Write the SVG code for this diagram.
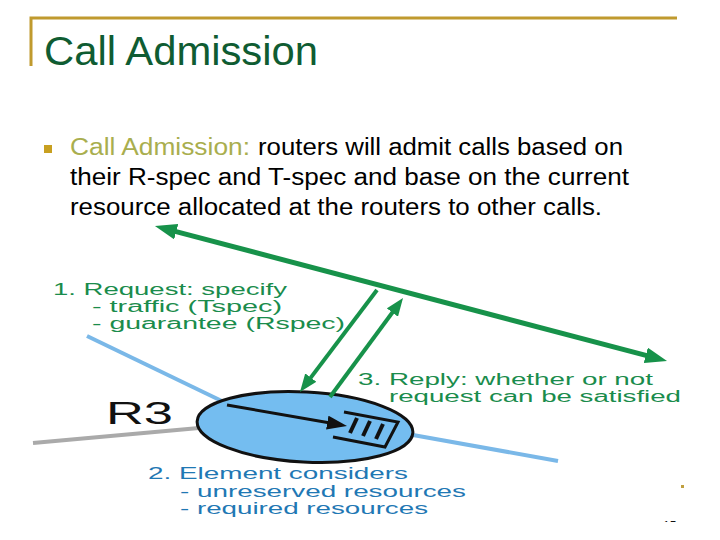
<svg xmlns="http://www.w3.org/2000/svg" width="720" height="540" viewBox="0 0 720 540">
<style>
.title{font-family:"Liberation Sans",Arial,sans-serif;font-size:40px;fill:#0f5c32}
.body{font-family:"Liberation Sans",Arial,sans-serif;font-size:23px;fill:#000}
.hl{fill:#a9ae4e}
.lbl{font-family:"Liberation Sans",Arial,sans-serif;font-size:16px}
.g{fill:#1a8c4c}
.b{fill:#1f78b4}
.gl{stroke:#17924a;fill:none}
</style>
<defs>
<marker id="ga" viewBox="0 0 22 16" refX="8" refY="8" markerWidth="22" markerHeight="16" markerUnits="userSpaceOnUse" orient="auto-start-reverse"><path d="M0,0 L22,8 L0,16 z" fill="#17924a"/></marker>
<marker id="gs" viewBox="0 0 18 14" refX="6" refY="7" markerWidth="18" markerHeight="14" markerUnits="userSpaceOnUse" orient="auto"><path d="M0,0 L18,7 L0,14 z" fill="#17924a"/></marker>
<marker id="ba" viewBox="0 0 20 14" refX="6" refY="7" markerWidth="20" markerHeight="14" markerUnits="userSpaceOnUse" orient="auto"><path d="M0,0 L20,7 L0,14 z" fill="#111"/></marker>
<clipPath id="pg"><rect x="640" y="500" width="60" height="22"/></clipPath>
</defs>
<rect width="720" height="540" fill="#fff"/>
<g id="header">
<path d="M31,66 V18 H677" fill="none" stroke="#c09a2e" stroke-width="3"/>
<text class="title" x="44" y="65" textLength="274" lengthAdjust="spacingAndGlyphs">Call Admission</text>
</g>
<g id="bullet">
<rect x="44" y="145" width="8" height="8" fill="#c8a020"/>
<text class="body hl" x="70" y="155" textLength="180" lengthAdjust="spacingAndGlyphs">Call Admission:</text>
<text class="body" x="258" y="155" textLength="365" lengthAdjust="spacingAndGlyphs">routers will admit calls based on</text>
<text class="body" x="70" y="185" textLength="559" lengthAdjust="spacingAndGlyphs">their R-spec and T-spec and base on the current</text>
<text class="body" x="70" y="215" textLength="532" lengthAdjust="spacingAndGlyphs">resource allocated at the routers to other calls.</text>
</g>
<g id="links">
<line x1="87" y1="336" x2="228" y2="404" stroke="#7ab8e8" stroke-width="4"/>
<line x1="413" y1="435" x2="558" y2="461" stroke="#7ab8e8" stroke-width="4"/>
<line x1="33" y1="443" x2="199" y2="428" stroke="#aaaaaa" stroke-width="4"/>
</g>
<g id="router">
<ellipse cx="305" cy="427" rx="108" ry="35" fill="#74bdf0" stroke="#111" stroke-width="3" transform="rotate(3 305 427)"/>
<g id="queue" stroke="#111" stroke-width="3" fill="none">
<path d="M344,412 L398,422 L385,447 L333,437"/>
<g stroke-width="4"><line x1="357" y1="418" x2="350" y2="433"/><line x1="370" y1="421" x2="363" y2="436"/><line x1="383" y1="424" x2="376" y2="439"/></g>
</g>
<text x="106" y="424" font-family="'Liberation Sans',Arial,sans-serif" font-size="31" fill="#111" textLength="67" lengthAdjust="spacingAndGlyphs">R3</text>
</g>
<g id="connectors">
<line class="gl" x1="168.5" y1="229.6" x2="653.5" y2="357.4" stroke-width="5" marker-start="url(#ga)" marker-end="url(#ga)"/>
<line class="gl" x1="377" y1="290" x2="307.2" y2="382.4" stroke-width="4" marker-end="url(#gs)"/>
<line class="gl" x1="330" y1="397" x2="395.9" y2="307.7" stroke-width="4" marker-end="url(#gs)"/>
<line x1="227" y1="405" x2="333.2" y2="423.6" stroke="#111" stroke-width="3" marker-end="url(#ba)"/>
</g>
<g id="labels">
<text class="lbl g" x="53" y="295" textLength="234" lengthAdjust="spacingAndGlyphs">1. Request: specify</text>
<text class="lbl g" x="92" y="312" textLength="190" lengthAdjust="spacingAndGlyphs">-  traffic (Tspec)</text>
<text class="lbl g" x="92" y="329" textLength="253" lengthAdjust="spacingAndGlyphs">-  guarantee (Rspec)</text>
<text class="lbl g" x="358" y="385" textLength="295" lengthAdjust="spacingAndGlyphs">3. Reply: whether or not</text>
<text class="lbl g" x="389" y="402" textLength="292" lengthAdjust="spacingAndGlyphs">request can be satisfied</text>
<text class="lbl b" x="148" y="479" textLength="260" lengthAdjust="spacingAndGlyphs">2. Element considers</text>
<text class="lbl b" x="180" y="497" textLength="286" lengthAdjust="spacingAndGlyphs">- unreserved resources</text>
<text class="lbl b" x="180" y="514" textLength="248" lengthAdjust="spacingAndGlyphs">- required resources</text>
</g>
<g id="footer">
<rect x="681" y="485" width="3" height="3" fill="#c0a040"/>
<text x="663" y="530" font-family="'Liberation Sans',Arial,sans-serif" font-size="12" fill="#111" clip-path="url(#pg)">15</text>
</g>
</svg>
